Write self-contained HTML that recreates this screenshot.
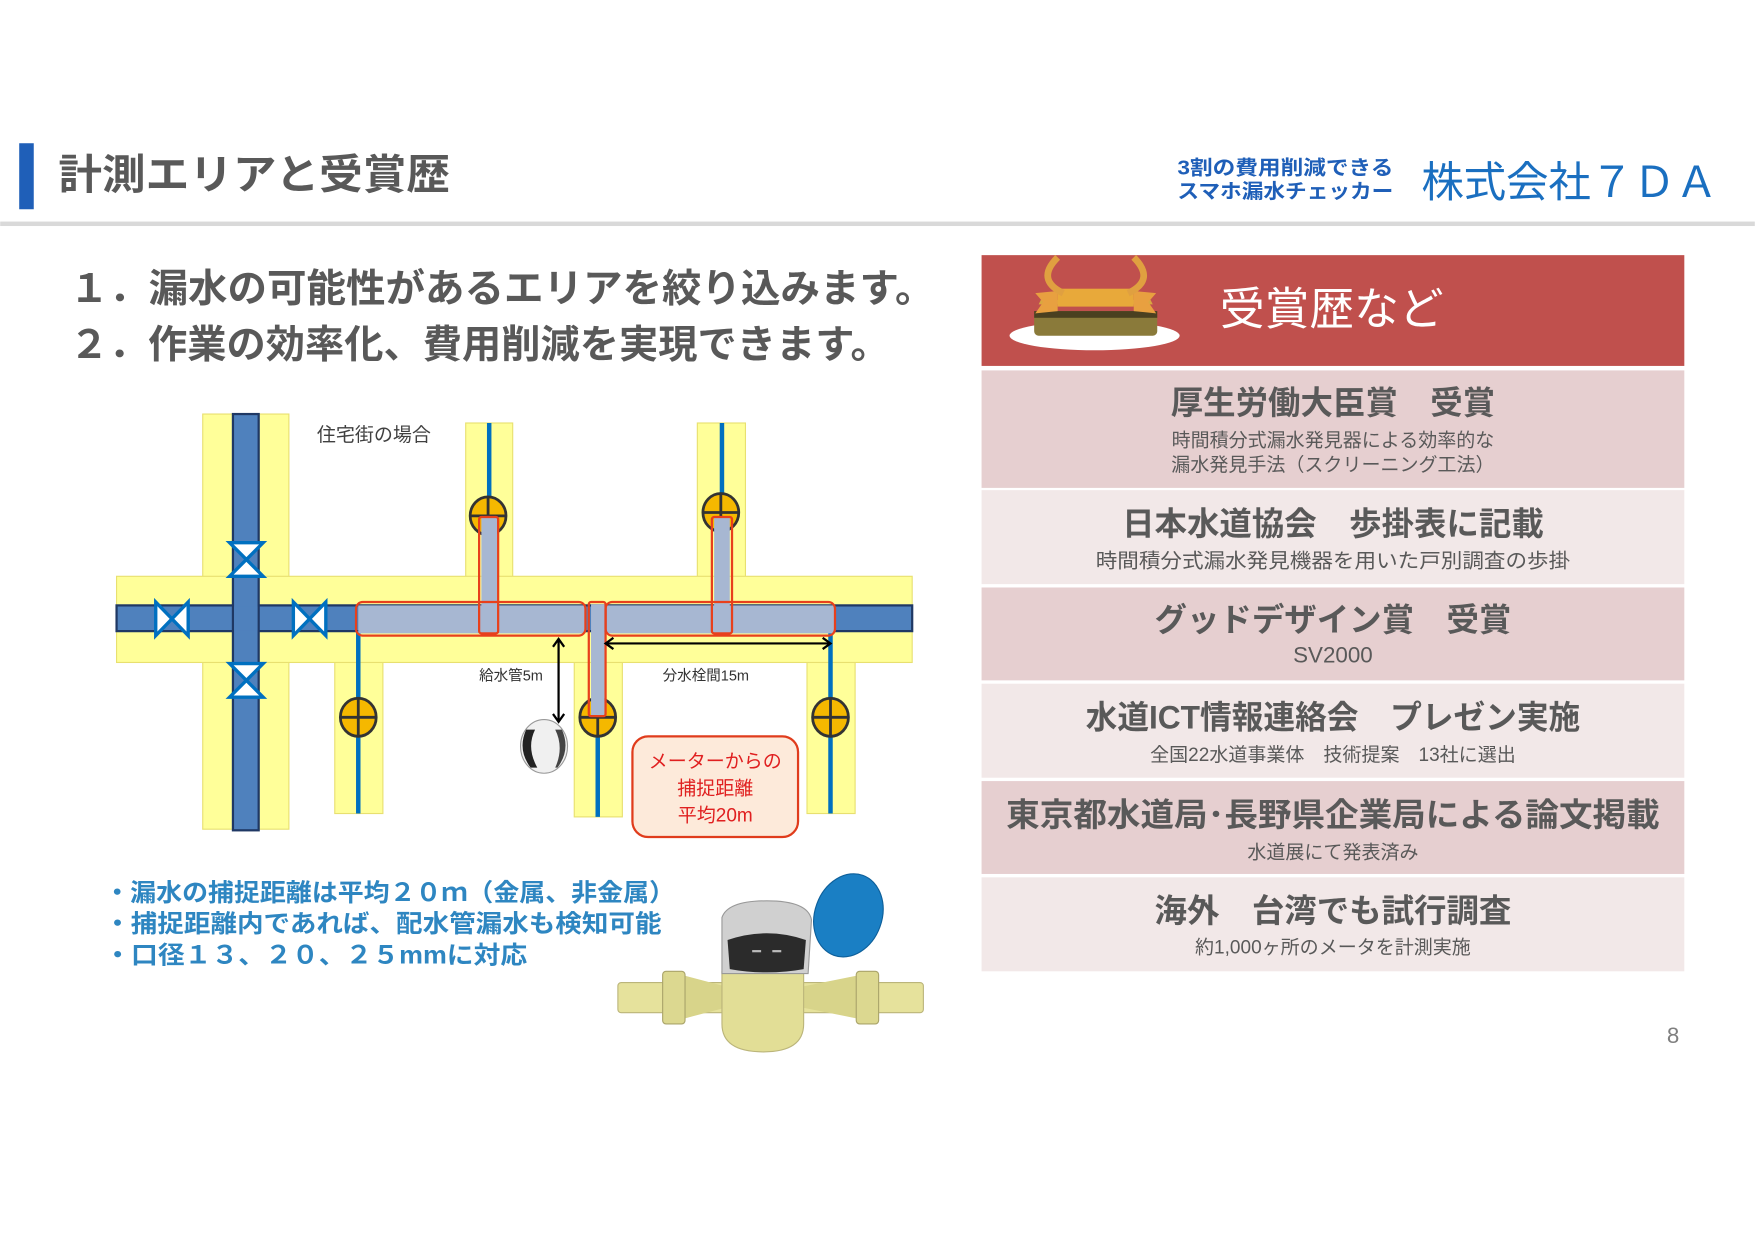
<!DOCTYPE html>
<html><head><meta charset="utf-8"><style>
html,body{margin:0;padding:0;background:#fff;}
svg{display:block;}
text{font-family:"Liberation Sans","Noto Sans CJK JP",sans-serif;}
</style></head><body>
<svg width="1755" height="1241" viewBox="0 0 1568 1109" xmlns="http://www.w3.org/2000/svg">
<rect width="1568" height="1109" fill="#fff"/>
<!-- header -->
<rect x="17" y="128" width="13" height="59" fill="#1f5fb8"/>
<text x="52" y="169" font-size="37" font-weight="bold" fill="#595959" textLength="350" lengthAdjust="spacingAndGlyphs">計測エリアと受賞歴</text>
<text x="1052" y="156" font-size="18" font-weight="bold" fill="#1f5fb8" textLength="193" lengthAdjust="spacingAndGlyphs">3割の費用削減できる</text>
<text x="1052" y="177" font-size="18" font-weight="bold" fill="#1f5fb8" textLength="193" lengthAdjust="spacingAndGlyphs">スマホ漏水チェッカー</text>
<text x="1270" y="176" font-size="38" fill="#1a6fc0" textLength="265" lengthAdjust="spacing">株式会社７ＤＡ</text>
<rect x="0" y="198" width="1568" height="4" fill="#d9d9d9"/>
<!-- intro -->
<text x="62" y="270" font-size="35" font-weight="bold" fill="#595959" textLength="773" lengthAdjust="spacingAndGlyphs">１．漏水の可能性があるエリアを絞り込みます。</text>
<text x="62" y="320" font-size="35" font-weight="bold" fill="#595959" textLength="733" lengthAdjust="spacingAndGlyphs">２．作業の効率化、費用削減を実現できます。</text>

<!-- right panel -->
<rect x="877" y="228" width="628" height="99" fill="#c0504d"/>
<ellipse cx="978" cy="300" rx="76" ry="13" fill="#fff"/>
<rect x="924" y="278" width="110" height="22" rx="4" fill="#8a7a3a"/>
<rect x="924" y="278" width="110" height="6" fill="#4a4020"/>
<path d="M928 272 L1030 272 L1028 268 L930 268Z" fill="#d8a840"/>
<rect x="945" y="258" width="68" height="16" fill="#e8a93a"/>
<path d="M925 262 L945 260 L945 278 L925 280 L932 270Z" fill="#e8a040"/>
<path d="M1033 262 L1013 260 L1013 278 L1033 280 L1026 270Z" fill="#e8a040"/>
<path d="M945 230 Q925 250 950 262" stroke="#e0a040" stroke-width="6" fill="none"/>
<path d="M1013 230 Q1033 250 1008 262" stroke="#e0a040" stroke-width="6" fill="none"/>
<text x="1090" y="290" font-size="40" fill="#fff">受賞歴など</text>

<rect x="877" y="331" width="628" height="105" fill="#e6cfd0"/>
<rect x="877" y="438" width="628" height="84" fill="#f2e8e8"/>
<rect x="877" y="525" width="628" height="83" fill="#e6cfd0"/>
<rect x="877" y="611" width="628" height="84" fill="#f2e8e8"/>
<rect x="877" y="698" width="628" height="83" fill="#e6cfd0"/>
<rect x="877" y="784" width="628" height="84" fill="#f2e8e8"/>
<g fill="#595959" text-anchor="middle">
<text x="1191" y="370" font-size="29" font-weight="bold">厚生労働大臣賞　受賞</text>
<text x="1191" y="399" font-size="17">時間積分式漏水発見器による効率的な</text>
<text x="1191" y="421" font-size="17">漏水発見手法（スクリーニング工法）</text>
<text x="1191" y="478" font-size="29" font-weight="bold">日本水道協会　歩掛表に記載</text>
<text x="1191" y="507" font-size="18" textLength="424" lengthAdjust="spacingAndGlyphs">時間積分式漏水発見機器を用いた戸別調査の歩掛</text>
<text x="1191" y="564" font-size="29" font-weight="bold">グッドデザイン賞　受賞</text>
<text x="1191" y="592" font-size="20">SV2000</text>
<text x="1191" y="651" font-size="29" font-weight="bold" textLength="442" lengthAdjust="spacingAndGlyphs">水道ICT情報連絡会　プレゼン実施</text>
<text x="1191" y="680" font-size="17">全国22水道事業体　技術提案　13社に選出</text>
<text x="1191" y="738" font-size="29" font-weight="bold" textLength="584" lengthAdjust="spacingAndGlyphs">東京都水道局･長野県企業局による論文掲載</text>
<text x="1191" y="767" font-size="17">水道展にて発表済み</text>
<text x="1191" y="824" font-size="29" font-weight="bold">海外　台湾でも試行調査</text>
<text x="1191" y="852" font-size="17">約1,000ヶ所のメータを計測実施</text>
</g>

<!-- diagram -->
<g fill="#ffff99" stroke="#e8e070" stroke-width="1">
<rect x="181" y="370" width="77" height="371"/>
<rect x="416" y="378" width="42" height="140"/>
<rect x="623" y="378" width="43" height="140"/>
<rect x="299" y="590" width="43" height="137"/>
<rect x="513" y="590" width="43" height="140"/>
<rect x="721" y="590" width="43" height="137"/>
<rect x="104" y="515" width="711" height="77"/>
</g>
<rect x="104" y="541" width="711" height="23" fill="#4f81bd" stroke="#1f3864" stroke-width="2"/>
<rect x="208" y="370" width="23" height="372" fill="#4f81bd" stroke="#1f3864" stroke-width="2"/>
<rect x="209" y="542" width="21" height="21" fill="#4f81bd"/>
<g stroke="#0070c0" stroke-width="4">
<line x1="437" y1="378" x2="437" y2="541"/>
<line x1="645" y1="378" x2="645" y2="541"/>
<line x1="320" y1="564" x2="320" y2="727"/>
<line x1="534" y1="564" x2="534" y2="730"/>
<line x1="742" y1="564" x2="742" y2="727"/>
</g>
<g fill="#fff" stroke="#0070c0" stroke-width="3">
<path d="M205 485 L235 485 L205 515 L235 515Z"/>
<path d="M205 593 L235 593 L205 623 L235 623Z"/>
<path d="M139 538 L139 568 L168 538 L168 568Z"/>
<path d="M262 538 L262 568 L291 538 L291 568Z"/>
</g>
<g stroke="#333" stroke-width="2.5">
<ellipse cx="436" cy="461" rx="16" ry="17" fill="#f5b800"/>
<ellipse cx="644" cy="458" rx="16" ry="17" fill="#f5b800"/>
<ellipse cx="320" cy="641" rx="16" ry="17" fill="#f5b800"/>
<ellipse cx="534" cy="641" rx="16" ry="17" fill="#f5b800"/>
<ellipse cx="742" cy="641" rx="16" ry="17" fill="#f5b800"/>
<path d="M420 461H452M436 444V478M628 458H660M644 441V475M304 641H336M320 624V658M518 641H550M534 624V658M726 641H758M742 624V658" fill="none"/>
</g>
<g fill="#a7b7d2">
<rect x="320" y="541" width="203" height="25"/>
<rect x="542" y="541" width="204" height="25"/>
<rect x="430" y="462" width="14" height="104"/>
<rect x="638" y="462" width="14" height="104"/>
<rect x="528" y="540" width="12" height="100"/>
</g>
<g fill="none" stroke="#e8401c" stroke-width="2">
<rect x="318" y="538" width="205" height="30" rx="6"/>
<rect x="541" y="538" width="205" height="30" rx="6"/>
<rect x="428" y="462" width="17" height="104" rx="2"/>
<rect x="636" y="462" width="18" height="104" rx="2"/>
<rect x="526" y="538" width="15" height="102" rx="2"/>
</g>
<g stroke="#000" stroke-width="2" fill="none">
<line x1="499" y1="572" x2="499" y2="644"/>
<path d="M494 578 L499 571 L504 578 M494 638 L499 645 L504 638"/>
<line x1="542" y1="575" x2="741" y2="575"/>
<path d="M548 570 L541 575 L548 580 M735 570 L742 575 L735 580"/>
</g>
<text x="428" y="608" font-size="13" fill="#333">給水管5m</text>
<text x="592" y="608" font-size="13" fill="#333">分水栓間15m</text>
<text x="283" y="394" font-size="17" fill="#404040">住宅街の場合</text>
<ellipse cx="486" cy="667" rx="21" ry="24" fill="#f0f0f0" stroke="#999"/>
<path d="M470 652 Q462 670 474 686 L480 686 Q470 668 478 652Z" fill="#222"/>
<path d="M502 652 Q510 670 498 686 L496 686 Q504 668 496 652Z" fill="#444"/>
<rect x="565" y="658" width="148" height="90" rx="14" fill="#fdeada" stroke="#e03c1c" stroke-width="2"/>
<g fill="#e02020" font-size="17" text-anchor="middle">
<text x="639" y="686">メーターからの</text>
<text x="639" y="710">捕捉距離</text>
<text x="639" y="734">平均20m</text>
</g>
<g fill="#2e86c1" font-size="22" font-weight="bold">
<text x="93" y="805" textLength="510" lengthAdjust="spacingAndGlyphs">・漏水の捕捉距離は平均２０ｍ（金属、非金属）</text>
<text x="93" y="833" textLength="498" lengthAdjust="spacingAndGlyphs">・捕捉距離内であれば、配水管漏水も検知可能</text>
<text x="93" y="861" textLength="378" lengthAdjust="spacingAndGlyphs">・口径１３、２０、２５mmに対応</text>
</g>
<g>
<rect x="552" y="878" width="273" height="27" rx="3" fill="#e6e29c" stroke="#bbb57a"/>
<path d="M612 872 L650 882 L650 900 L612 910Z" fill="#d8d48a"/>
<path d="M765 872 L715 882 L715 900 L765 910Z" fill="#d8d48a"/>
<rect x="592" y="868" width="20" height="47" rx="3" fill="#dcd890" stroke="#aaa46a"/>
<rect x="765" y="868" width="20" height="47" rx="3" fill="#dcd890" stroke="#aaa46a"/>
<path d="M645 868 L718 868 L718 915 Q718 940 682 940 Q645 940 645 915Z" fill="#e2de96" stroke="#bbb57a"/>
<ellipse cx="758" cy="818" rx="30" ry="38" transform="rotate(20 758 818)" fill="#1a7fc4" stroke="#0d5f9a"/>
<path d="M645 870 L645 820 Q650 805 685 805 Q722 805 725 822 L722 870Z" fill="#d0d0d0" stroke="#999"/>
<path d="M650 840 Q685 828 720 840 L718 866 Q685 872 652 866Z" fill="#2b2b2b"/>
<line x1="672" y1="850" x2="680" y2="850" stroke="#bbb" stroke-width="2"/>
<line x1="690" y1="850" x2="698" y2="850" stroke="#bbb" stroke-width="2"/>
</g>
<text x="1495" y="932" font-size="20" fill="#7f7f7f" text-anchor="middle">8</text>
</svg>
</body></html>
